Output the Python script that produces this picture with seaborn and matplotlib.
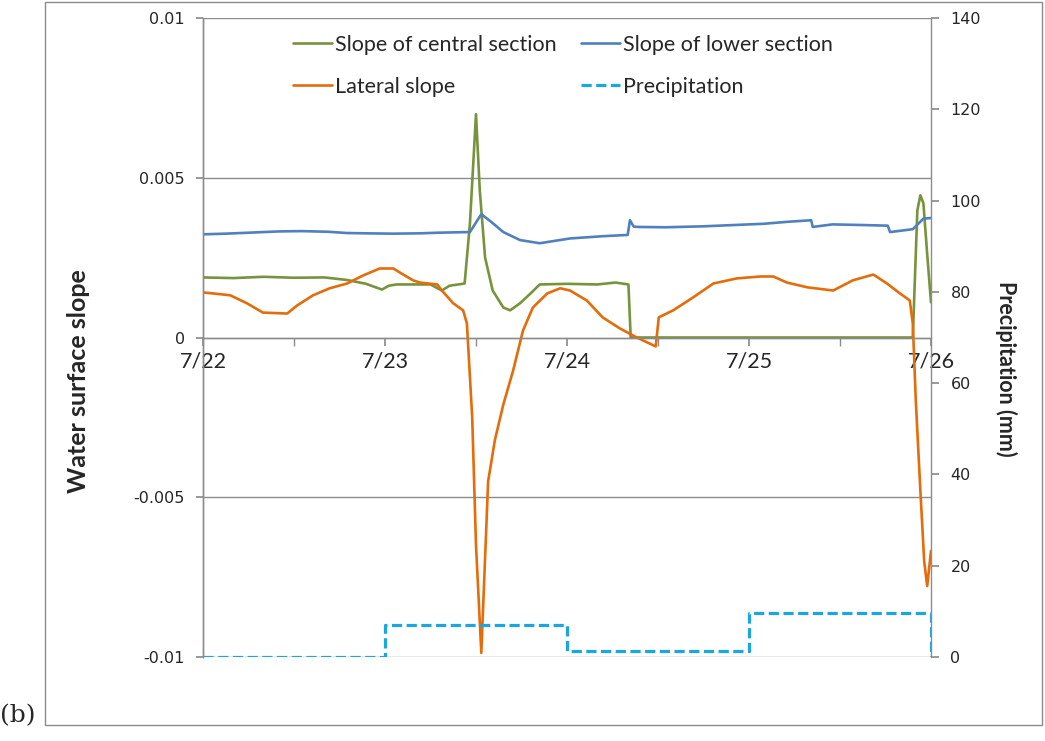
import numpy as np
import pandas as pd
import matplotlib
matplotlib.use("Agg")
import matplotlib.pyplot as plt
from matplotlib.patches import Rectangle
import seaborn as sns

# ---------------- data (hours after 7/22 00:00, slopes in 1e-3) ----------------
day_labels = ["7/22", "7/23", "7/24", "7/25", "7/26"]

central_h = [0, 4, 8, 12, 16, 19, 21.5, 23.6, 24.5, 25.5, 30, 31.5, 32.5, 34.5,
             35.2, 36.0, 36.5, 37.2, 38.2, 39.6, 40.5, 41.8, 43.2, 44.4, 48, 52,
             54.4, 56.1, 56.4, 93.6, 94.2, 94.6, 95.0, 95.5, 96]
central_v = [1.88, 1.86, 1.90, 1.87, 1.88, 1.80, 1.68, 1.50, 1.62, 1.66, 1.66, 1.47,
             1.62, 1.69, 3.57, 6.99, 4.60, 2.50, 1.47, 0.94, 0.85, 1.07, 1.38, 1.66,
             1.68, 1.66, 1.72, 1.66, 0.0, 0.0, 3.98, 4.45, 4.20, 2.60, 1.10]

lower_h = [0, 3, 6, 10, 13, 16.4, 19, 21.6, 25, 28.6, 31, 33, 35.2, 36.7, 38, 39.6,
           41.8, 44.4, 48.4, 52.7, 56.0, 56.3, 56.8, 57.5, 61, 66, 70, 74, 77, 80.2,
           80.4, 83, 87, 90.3, 90.6, 93.6, 95, 96]
lower_v = [3.23, 3.25, 3.28, 3.32, 3.33, 3.31, 3.27, 3.26, 3.25, 3.26, 3.28, 3.29,
           3.30, 3.86, 3.62, 3.30, 3.05, 2.95, 3.10, 3.17, 3.21, 3.67, 3.47, 3.46,
           3.45, 3.48, 3.52, 3.56, 3.62, 3.67, 3.46, 3.54, 3.52, 3.50, 3.30, 3.39,
           3.72, 3.74]

lateral_h = [0, 1.3, 3.6, 5.8, 7.9, 11.1, 12.4, 14.5, 16.7, 19.0, 21.1, 23.3, 25.1,
             26.4, 27.7, 28.6, 30.9, 31.5, 33.0, 34.3, 34.8, 35.5, 36.0, 36.7, 37.6,
             38.5, 39.6, 40.9, 42.2, 43.5, 45.4, 47.1, 48.4, 50.6, 52.7, 55.0, 57.2,
             58.9, 59.7, 60.1, 62.0, 64.6, 67.3, 70.4, 73.5, 75.2, 77.0, 79.7, 83.1,
             85.7, 88.4, 90.2, 91.9, 93.2, 93.6, 94.0, 94.6, 95.1, 95.5, 96]
lateral_v = [1.41, 1.38, 1.32, 1.07, 0.78, 0.75, 1.00, 1.32, 1.54, 1.69, 1.94, 2.16,
             2.16, 1.97, 1.79, 1.72, 1.66, 1.47, 1.07, 0.85, 0.44, -2.5, -6.5, -9.87,
             -4.5, -3.2, -2.1, -1.03, 0.22, 0.94, 1.38, 1.54, 1.47, 1.16, 0.63, 0.28,
             0.0, -0.19, -0.28, 0.63, 0.85, 1.25, 1.69, 1.85, 1.91, 1.91, 1.72, 1.57,
             1.47, 1.79, 1.97, 1.69, 1.38, 1.16, 0.44, -2.0, -4.8, -7.0, -7.78, -6.68]

precip_h = [0, 24, 48, 72, 96]
precip_mm = [0, 7.0, 1.3, 9.7, 0]

labels = ["Slope of central section", "Slope of lower section",
          "Lateral slope", "Precipitation"]
colors = {"central": "#77933C", "lower": "#4F81BD",
          "lateral": "#E46C0A", "precip": "#1AA7E0"}

# ---------------- figure ----------------
sns.set_theme(style="white")
plt.rcParams["font.family"] = ["DejaVu Sans"]

W, H = 1045, 741
fig = plt.figure(figsize=(W / 100, H / 100), dpi=100)
ax = fig.add_axes([203 / W, 1 - 657 / H, (931 - 203) / W, (657 - 18) / H])
ax2 = ax.twinx()

def frame(h, v):
    return pd.DataFrame({"h": h, "v": np.asarray(v) * 1e-3})

lw = 1.9
sns.lineplot(data=frame(central_h, central_v), x="h", y="v", ax=ax, color=colors["central"],
             lw=lw, estimator=None, sort=False, label=labels[0], legend=False)
sns.lineplot(data=frame(lower_h, lower_v), x="h", y="v", ax=ax, color=colors["lower"],
             lw=lw, estimator=None, sort=False, label=labels[1], legend=False)
sns.lineplot(data=frame(lateral_h, lateral_v), x="h", y="v", ax=ax, color=colors["lateral"],
             lw=lw, estimator=None, sort=False, label=labels[2], legend=False)
sns.lineplot(data=pd.DataFrame({"h": precip_h, "p": precip_mm}), x="h", y="p", ax=ax2,
             color=colors["precip"], lw=2.3, estimator=None, sort=False,
             drawstyle="steps-post", dashes=False, label=labels[3], legend=False)
ax2.lines[0].set_dashes([3.2, 1.4])

grey = "#8c8c8c"
ax.set_xlim(0, 96)
ax.set_ylim(-0.01, 0.01)
ax2.set_ylim(0, 140)

ax.grid(axis="y", color=grey, lw=1.0)
ax.grid(axis="x", visible=False)
for a in (ax, ax2):
    for s in a.spines.values():
        s.set_color(grey)
        s.set_linewidth(1.0)
    a.spines["top"].set_visible(False)
ax.spines["bottom"].set_position(("data", 0))
ax2.spines["bottom"].set_visible(False)
ax.spines["right"].set_visible(False)

ax.tick_params(axis="y", which="major", direction="out", length=5, color=grey,
               labelsize=11.5, pad=8, left=True)
ax.tick_params(axis="x", which="both", direction="out", length=6, color=grey,
               pad=4, bottom=True, labelsize=15.5)
ax2.tick_params(axis="y", direction="out", length=6, color=grey, labelsize=11.5,
                pad=8, right=True)

ax.set_yticks([-0.01, -0.005, 0, 0.005, 0.01])
ax.set_yticklabels(["-0.01", "-0.005", "0", "0.005", "0.01"])
ax2.set_yticks(np.arange(0, 141, 20))
ax.set_xticks([12, 36, 60, 84], minor=True)
ax.set_xticks([0, 24, 48, 72, 96], day_labels, fontfamily="Lato", fontsize=15.5)

ax.set_xlabel("")
ax.set_ylabel("Water surface slope", fontfamily="Lato", fontweight="bold", fontsize=18)
ax.yaxis.set_label_coords(78 / W, 1 - 381 / H, transform=fig.transFigure)
ax2.set_ylabel("Precipitation (mm)", fontfamily="Lato", fontweight="bold",
               fontsize=15.5, rotation=-90, va="center")
ax2.yaxis.set_label_coords(1006 / W, 1 - 369 / H, transform=fig.transFigure)
ax.yaxis.label.set_va("center")

# legend
handles = ax.lines[:3] + ax2.lines[:1]
order = [0, 2, 1, 3]
leg = ax2.legend([handles[i] for i in order], [labels[i] for i in order], ncol=2,
                 frameon=False, loc="upper left",
                 bbox_to_anchor=(293 / W, 1 - 35 / H), bbox_transform=fig.transFigure,
                 prop={"family": "Lato", "size": 15.5}, handlelength=1.8,
                 handletextpad=0.15, columnspacing=1.15, labelspacing=1.02,
                 borderpad=0, borderaxespad=0)

# outer frame and panel label
fig.patches.append(Rectangle((45 / W, 1 - 725 / H), (1042 - 45) / W, (725 - 2) / H,
                             transform=fig.transFigure, fill=False, ec=grey, lw=1.0))
fig.text(0, 1 - 716 / H, "(b)", fontfamily="DejaVu Serif", fontsize=18, va="center",
         ha="left")

fig.savefig("out.png", dpi=100)
